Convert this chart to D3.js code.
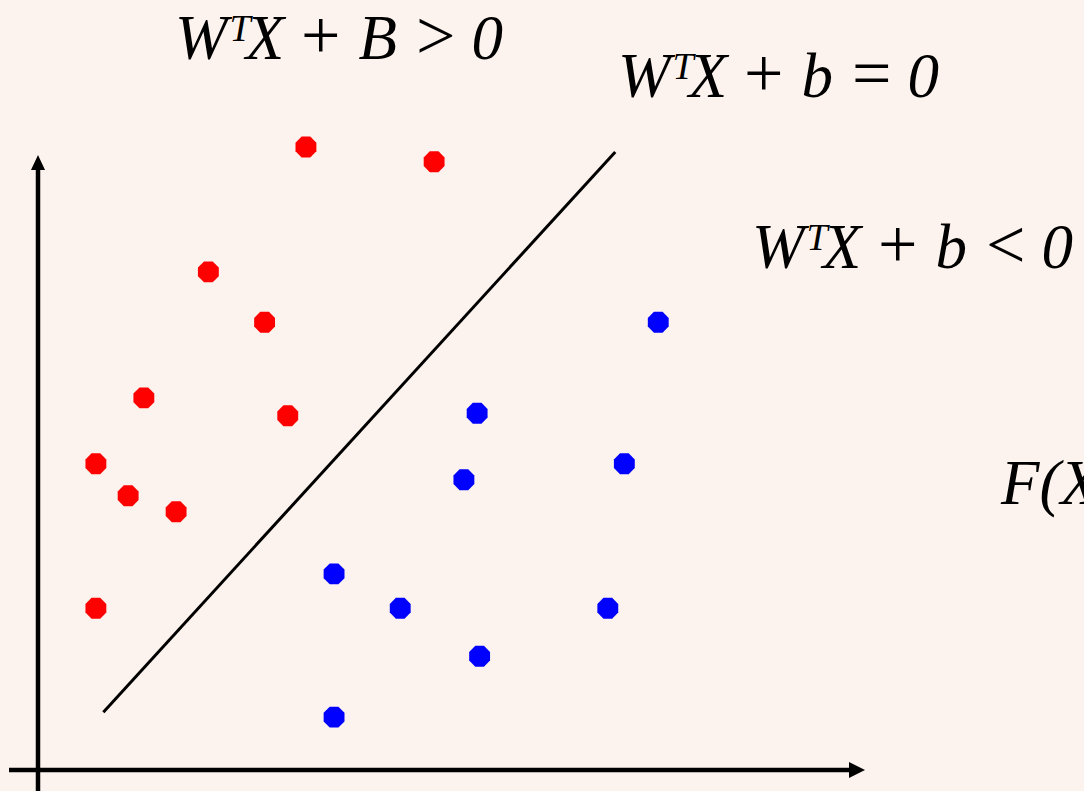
<!DOCTYPE html>
<html><head><meta charset="utf-8">
<script src="https://cdn.jsdelivr.net/npm/d3@7"></script>
<style>html,body{margin:0;padding:0;background:#fdf3ee;overflow:hidden}</style>
</head><body>
<script>
// Data (axis units)
const redX = [32.4, 47.9, 20.6, 27.4, 12.8, 30.2, 7.0, 10.9, 16.7, 7.0];
const redY = [101.3, 98.9, 81.0, 72.8, 60.5, 57.6, 49.8, 44.6, 42.0, 26.3];
const blueX = [75.0, 53.1, 70.9, 51.5, 35.8, 43.8, 68.9, 53.4, 35.8];
const blueY = [72.8, 58.0, 49.8, 47.2, 31.9, 26.3, 26.3, 18.5, 8.6];
const boundaryX = [7.9, 69.8];
const boundaryY = [9.4, 100.5];
const labelTexts = [
  ["W", "T", "X", "+", "B", ">", "0"],
  ["W", "T", "X", "+", "b", "=", "0"],
  ["W", "T", "X", "+", "b", "<", "0"]
];

const W = 1084, H = 791;
const svg = d3.select("body").append("svg").attr("width", W).attr("height", H);
svg.append("rect").attr("width", W).attr("height", H).attr("fill", "#fdf3ee");

const x = d3.scaleLinear().domain([0, 100]).range([38, 865]);
const y = d3.scaleLinear().domain([0, 100]).range([770, 155]);

// axes
svg.append("line").attr("x1", x(0)).attr("x2", x(0)).attr("y1", 791).attr("y2", 168)
  .attr("stroke", "#000").attr("stroke-width", 4.5);
svg.append("line").attr("x1", 9).attr("x2", 851).attr("y1", y(0)).attr("y2", y(0))
  .attr("stroke", "#000").attr("stroke-width", 4.5);
svg.append("path").attr("d", `M${x(0)},${y(100)} L${x(0)-7},${y(100)+15} L${x(0)+7},${y(100)+15} Z`).attr("fill", "#000");
svg.append("path").attr("d", `M${x(100)},${y(0)} L${x(100)-16},${y(0)-8} L${x(100)-16},${y(0)+8} Z`).attr("fill", "#000");

// boundary line
svg.append("line")
  .attr("x1", x(boundaryX[0])).attr("y1", y(boundaryY[0]))
  .attr("x2", x(boundaryX[1])).attr("y2", y(boundaryY[1]))
  .attr("stroke", "#000").attr("stroke-width", 3);

// octagon
const R = 11.3;
const oct = d3.range(8).map(k => {
  const a = Math.PI / 8 + k * Math.PI / 4;
  return [R * Math.cos(a), R * Math.sin(a)];
});
const octPath = "M" + oct.map(p => p.join(",")).join("L") + "Z";

function dots(xs, ys, color) {
  svg.append("g").selectAll("path").data(xs.map((d, i) => [d, ys[i]])).join("path")
    .attr("d", octPath)
    .attr("transform", d => `translate(${x(d[0])},${y(d[1])})`)
    .attr("fill", color);
}
dots(redX, redY, "#ff0000");
dots(blueX, blueY, "#0000ff");

// labels
const FONT = "'Liberation Serif','Times New Roman',serif";
function eqLabel(px, py, parts) {
  const t = svg.append("text").attr("x", px).attr("y", py)
    .attr("font-family", FONT).attr("font-size", 63).attr("fill", "#000");
  t.append("tspan").attr("font-style", "italic").text(parts[0]);
  t.append("tspan").attr("font-style", "italic").attr("font-size", 38).attr("dy", -18).attr("dx", 2).text(parts[1]);
  t.append("tspan").attr("font-style", "italic").attr("dy", 18).attr("dx", -5).text(parts[2]);
  t.append("tspan").attr("font-size", 70).attr("dx", 17).text(parts[3]);
  t.append("tspan").attr("font-style", "italic").attr("dx", 18).text(parts[4]);
  t.append("tspan").attr("font-size", 70).attr("dx", 19).text(parts[5]);
  t.append("tspan").attr("font-style", "italic").attr("dx", 16).text(parts[6]);
}
eqLabel(175, 59, labelTexts[0]);
eqLabel(618, 97, labelTexts[1]);
eqLabel(752, 268, labelTexts[2]);

svg.append("text").attr("x", 1001).attr("y", 504)
  .attr("font-family", FONT).attr("font-size", 63).attr("font-style", "italic")
  .attr("fill", "#000").text("F(X)");
</script>
</body></html>
